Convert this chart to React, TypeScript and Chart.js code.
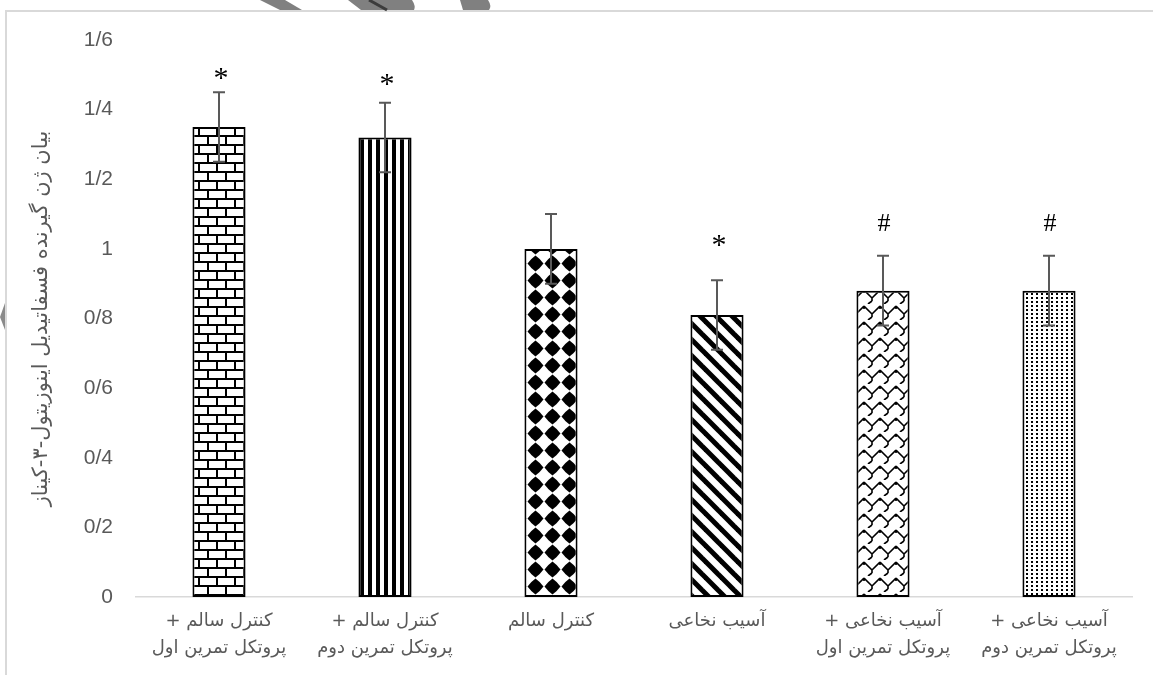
import React, { useEffect, useRef } from "react";
import { Chart, registerables } from "chart.js";

Chart.register(...registerables);

// Groups along the x axis (two-line labels where the group name wraps)
const categories: (string | string[])[] = [
  ["کنترل سالم +\u200F", "پروتکل تمرین اول"],
  ["کنترل سالم +\u200F", "پروتکل تمرین دوم"],
  "کنترل سالم",
  "آسیب نخاعی",
  ["آسیب نخاعی +\u200F", "پروتکل تمرین اول"],
  ["آسیب نخاعی +\u200F", "پروتکل تمرین دوم"],
];

// Relative gene expression (mean) and its error
const expression = [1.35, 1.32, 1.0, 0.81, 0.88, 0.88];
const errors = [0.1, 0.1, 0.1, 0.1, 0.1, 0.1];

// Significance markers shown above each bar
const markers = ["*", "*", "", "*", "#", "#"];

// Y tick labels use the Persian decimal separator
const yTickLabels = ["0", "0/2", "0/4", "0/6", "0/8", "1", "1/2", "1/4", "1/6"];

const yTitle = "بیان ژن گیرنده فسفاتیدیل اینوزیتول-۳-کیناز";

const GREY = "#595959";
const ARABIC_FONT = '"DejaVu Sans", "Liberation Sans", sans-serif';

function makeTile(w: number, h: number, draw: (c: CanvasRenderingContext2D) => void): CanvasPattern {
  const cv = document.createElement("canvas");
  cv.width = w;
  cv.height = h;
  const c = cv.getContext("2d")!;
  c.fillStyle = "#ffffff";
  c.fillRect(0, 0, w, h);
  c.fillStyle = "#000000";
  c.strokeStyle = "#000000";
  draw(c);
  return c.createPattern(cv, "repeat")!;
}

function buildPatterns(): CanvasPattern[] {
  // brick
  const brick = makeTile(18, 18, (c) => {
    c.fillRect(0, 0, 18, 2);
    c.fillRect(0, 9, 18, 2);
    c.fillRect(0, 0, 2, 9);
    c.fillRect(9, 9, 2, 9);
  });
  // vertical stripes
  const vstripes = makeTile(8, 8, (c) => {
    c.fillRect(0, 0, 4, 8);
  });
  // rounded diamond blobs on a square grid
  const diamonds = makeTile(17, 17, (c) => {
    const cx = 8.5, cy = 8.5, r = 8, k = 0.58;
    c.beginPath();
    c.moveTo(cx, cy - r);
    c.quadraticCurveTo(cx + r * k, cy - r * k, cx + r, cy);
    c.quadraticCurveTo(cx + r * k, cy + r * k, cx, cy + r);
    c.quadraticCurveTo(cx - r * k, cy + r * k, cx - r, cy);
    c.quadraticCurveTo(cx - r * k, cy - r * k, cx, cy - r);
    c.fill();
  });
  // wide downward diagonal
  const diag = makeTile(16, 16, (c) => {
    c.lineWidth = 5;
    for (const x0 of [-16, 0, 16]) {
      c.beginPath();
      c.moveTo(x0 - 2, -2);
      c.lineTo(x0 + 18, 18);
      c.stroke();
    }
  });
  // shingle / scale weave
  const shingle = makeTile(16, 16, (c) => {
    c.lineWidth = 1.6;
    c.beginPath();
    c.moveTo(0, 2);
    c.lineTo(8, 10);
    c.lineTo(8, 13);
    c.moveTo(8, 10);
    c.lineTo(16, 2);
    c.moveTo(0, 2);
    c.lineTo(0, 5);
    c.moveTo(16, 2);
    c.lineTo(16, 5);
    c.moveTo(8, 13);
    c.lineTo(4, 16);
    c.stroke();
  });
  // fine dots
  const dots = makeTile(5, 4, (c) => {
    c.fillRect(1, 1, 2, 2);
  });
  return [brick, vstripes, diamonds, diag, shingle, dots];
}

const errorBarPlugin = {
  id: "errorBars",
  afterDatasetsDraw(chart: any) {
    const { ctx } = chart;
    const y = chart.scales.y;
    const meta = chart.getDatasetMeta(0);
    ctx.save();
    ctx.strokeStyle = GREY;
    ctx.lineWidth = 2;
    meta.data.forEach((bar: any, i: number) => {
      const top = y.getPixelForValue(expression[i] + errors[i]);
      const bot = y.getPixelForValue(expression[i] - errors[i]);
      ctx.beginPath();
      ctx.moveTo(bar.x, top);
      ctx.lineTo(bar.x, bot);
      ctx.moveTo(bar.x - 6, top);
      ctx.lineTo(bar.x + 6, top);
      ctx.moveTo(bar.x - 6, bot);
      ctx.lineTo(bar.x + 6, bot);
      ctx.stroke();
    });
    ctx.restore();
  },
};

const markerPlugin = {
  id: "markers",
  afterDatasetsDraw(chart: any, _args: any, opts: any) {
    const { ctx } = chart;
    const y = chart.scales.y;
    const meta = chart.getDatasetMeta(0);
    const gaps: number[] = opts.gaps;
    ctx.save();
    ctx.fillStyle = "#000000";
    ctx.textAlign = "center";
    ctx.textBaseline = "alphabetic";
    meta.data.forEach((bar: any, i: number) => {
      if (!markers[i]) return;
      const top = y.getPixelForValue(expression[i] + errors[i]);
      const centre = top - gaps[i];
      if (markers[i] === "*") {
        ctx.font = '30px "Liberation Serif", serif';
        ctx.fillText(markers[i], bar.x + 2, centre + 15);
      } else {
        ctx.font = '26px "Liberation Serif", serif';
        ctx.fillText(markers[i], bar.x + 1, centre + 9);
      }
    });
    ctx.restore();
  },
};

const yTitlePlugin = {
  id: "yTitle",
  afterDraw(chart: any) {
    const { ctx, chartArea } = chart;
    ctx.save();
    ctx.translate(42, (chartArea.top + chartArea.bottom) / 2);
    ctx.rotate(-Math.PI / 2);
    ctx.fillStyle = GREY;
    ctx.font = `21px ${ARABIC_FONT}`;
    ctx.textAlign = "center";
    ctx.textBaseline = "middle";
    ctx.fillText(yTitle, 0, 0);
    ctx.restore();
  },
};

const whiteBg = {
  id: "whiteBg",
  beforeDraw(chart: any) {
    const { ctx, width, height } = chart;
    ctx.save();
    ctx.fillStyle = "#ffffff";
    ctx.fillRect(0, 0, width, height);
    ctx.restore();
  },
};

export default function App() {
  const ref = useRef<HTMLCanvasElement>(null);

  useEffect(() => {
    if (!ref.current) return;
    const patterns = buildPatterns();
    const chart = new Chart(ref.current, {
      type: "bar",
      data: {
        labels: categories,
        datasets: [
          {
            data: expression,
            backgroundColor: patterns,
            borderColor: "#000000",
            borderWidth: 2,
            borderSkipped: false,
            barPercentage: 0.32,
            categoryPercentage: 1,
          },
        ],
      },
      options: {
        animation: false,
        responsive: false,
        devicePixelRatio: 1,
        layout: { padding: { top: 40, right: 21, bottom: 0, left: 0 } },
        plugins: {
          legend: { display: false },
          tooltip: { enabled: false },
          markers: { gaps: [20, 25, 0, 41, 34, 34] },
        } as any,
        scales: {
          x: {
            grid: { display: false, drawTicks: false },
            border: { display: true, color: "#d9d9d9", width: 1.5 },
            ticks: {
              color: GREY,
              font: { family: ARABIC_FONT, size: 18, lineHeight: 1.5 },
              padding: 11,
              maxRotation: 0,
              minRotation: 0,
              autoSkip: false,
            },
            afterFit: (scale: any) => {
              scale.height = 78;
            },
          },
          y: {
            min: 0,
            max: 1.6,
            grid: { display: false, drawTicks: false },
            border: { display: false },
            ticks: {
              stepSize: 0.2,
              color: GREY,
              padding: 23,
              font: { family: '"Liberation Sans", sans-serif', size: 21 },
              callback: (v: any) => yTickLabels[Math.round(Number(v) / 0.2)],
            },
            afterFit: (scale: any) => {
              scale.width = 136;
            },
          },
        },
      },
      plugins: [whiteBg, errorBarPlugin, markerPlugin, yTitlePlugin],
    });
    return () => chart.destroy();
  }, []);

  return (
    <div style={{ position: "absolute", left: 0, top: 0, width: 1153, height: 675, background: "#fff", overflow: "hidden" }}>
      <canvas ref={ref} width={1153} height={675} style={{ position: "absolute", left: 0, top: 0 }} />
      {/* outer chart frame */}
      <div style={{ position: "absolute", left: 5, top: 10, width: 1200, height: 700, borderLeft: "2px solid #d9d9d9", borderTop: "2px solid #d9d9d9" }} />
      {/* fragments of a grey logo along the top and left edges */}
      <svg width={1153} height={675} style={{ position: "absolute", left: 0, top: 0 }}>
        <polygon points="260,0 285,0 302,10 280,10" fill="#808080" />
        <path d="M348,0 L412,0 Q416,6 414,10 L361,10 Z" fill="#808080" />
        <line x1={369} y1={0} x2={387} y2={10} stroke="#3c3c3c" strokeWidth={3} />
        <path d="M460,0 L488,0 Q492,6 489,10 L463,10 Z" fill="#808080" />
        <polygon points="5,303 0,317 5,330" fill="#8a8a8a" />
      </svg>
    </div>
  );
}
